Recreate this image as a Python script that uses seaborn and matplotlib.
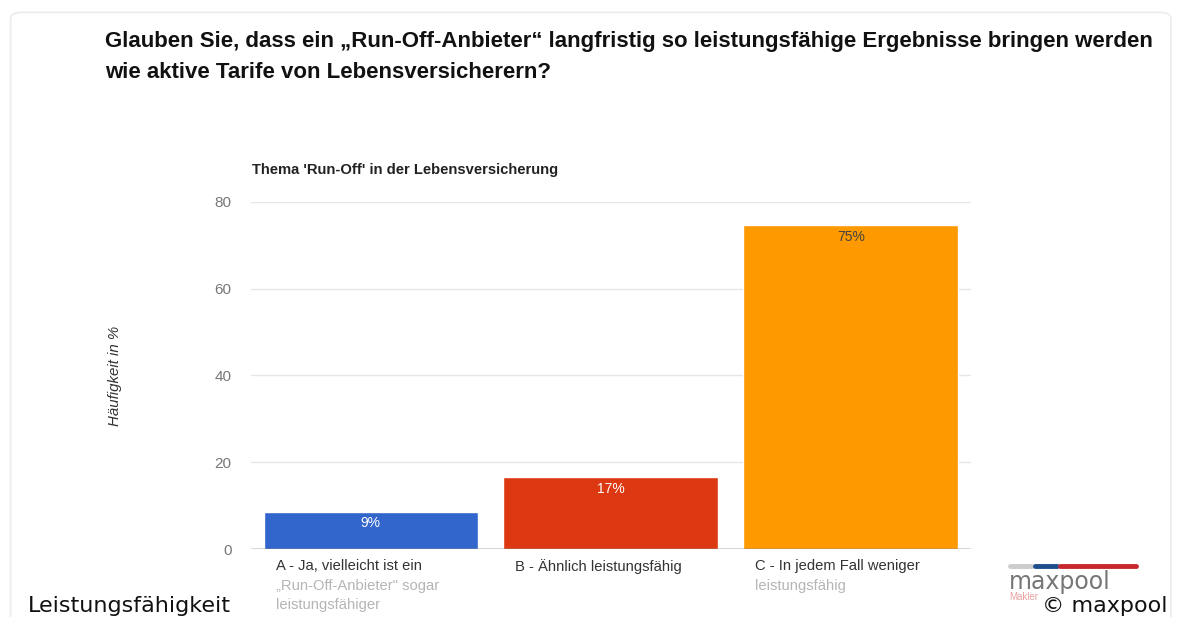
import matplotlib
matplotlib.use("Agg")
import matplotlib.pyplot as plt
import seaborn as sns
import pandas as pd
from matplotlib.patches import FancyBboxPatch

categories = ["A", "B", "C"]
values = [8.6, 16.5, 74.6]
value_labels = ["9%", "17%", "75%"]
label_first = ["A - Ja, vielleicht ist ein", "B - Ähnlich leistungsfähig", "C - In jedem Fall weniger"]
label_rest = ["„Run-Off-Anbieter\" sogar\nleistungsfähiger", "", "leistungsfähig"]
colors = ["#3366CC", "#DC3912", "#FF9900"]
yticks = [0, 20, 40, 60, 80]

sns.set_theme(style="white")
plt.rcParams['font.family'] = ['Liberation Sans', 'DejaVu Sans']

fig = plt.figure(figsize=(11.78, 6.17), dpi=100)
ax = fig.add_axes([0.213, 0.110, 0.611, 0.563])

df = pd.DataFrame({"cat": categories, "val": values})
sns.barplot(data=df, x="cat", y="val", hue="cat", palette=colors, legend=False,
            width=0.895, saturation=1, ax=ax)

ax.set_ylim(0, 80)
ax.set_xlim(-0.5, 2.5)
ax.set_yticks(yticks)
ax.set_yticklabels([str(t) for t in yticks], color="#777777", fontsize=11)
ax.tick_params(axis="y", length=0, pad=14)
ax.tick_params(axis="x", length=0)
ax.set_xticklabels([])
ax.set_xlabel("")
ax.set_ylabel("")
for t in yticks[1:]:
    ax.axhline(t, color="#e6e6e6", lw=1, zorder=0)
ax.axhline(0, color="#333333", lw=1, zorder=3)
for s in ax.spines.values():
    s.set_visible(False)

# value labels
for i, (v, lab) in enumerate(zip(values, value_labels)):
    ax.text(i, v - 1.0, lab, ha="center", va="top", fontsize=10,
            color="white" if i < 2 else "#444444")

# x category labels
for i in range(3):
    x0 = i - 0.895 / 2 + 0.05
    ax.text(x0, -2.2, label_first[i], ha="left", va="top", fontsize=10.6,
            color="#333333", clip_on=False)
    if label_rest[i]:
        ax.text(x0, -6.8, label_rest[i], ha="left", va="top", fontsize=10.6,
                color="#b5b5b5", linespacing=1.45, clip_on=False)

# frame
fig.patches.append(FancyBboxPatch((0.009, -0.05), 0.985, 1.03, boxstyle="round,pad=0,rounding_size=0.01",
                                  transform=fig.transFigure, fill=False, ec="#ececec", lw=1.2))

fig.text(105 / 1178, 1 - 42 / 617, "Glauben Sie, dass ein „Run-Off-Anbieter“ langfristig so leistungsfähige Ergebnisse bringen werden",
         fontsize=16, fontweight="bold", color="#111111", va="center", ha="left")
fig.text(105 / 1178, 1 - 73 / 617, "wie aktive Tarife von Lebensversicherern?",
         fontsize=16, fontweight="bold", color="#111111", va="center", ha="left")
fig.text(252 / 1178, 1 - 170 / 617, "Thema 'Run-Off' in der Lebensversicherung",
         fontsize=10.6, fontweight="bold", color="#222222", va="center", ha="left")
fig.text(115 / 1178, 1 - 376 / 617, "Häufigkeit in %", rotation=90, fontsize=10.8,
         fontstyle="italic", color="#333333", va="center", ha="center")

# logo
fig.lines.append(plt.Line2D([1010 / 1178, 1032 / 1178], [1 - 566 / 617] * 2, color="#cccccc", lw=3.5, transform=fig.transFigure))
fig.lines.append(plt.Line2D([1035 / 1178, 1057 / 1178], [1 - 566 / 617] * 2, color="#1f4e8c", lw=3.5, transform=fig.transFigure))
fig.lines.append(plt.Line2D([1060 / 1178, 1136 / 1178], [1 - 566 / 617] * 2, color="#c8282d", lw=3.5, transform=fig.transFigure))
fig.text(1009 / 1178, 1 - 582 / 617, "maxpool", fontsize=17, color="#777777", family="DejaVu Sans",
         va="center", ha="left")
fig.text(1009 / 1178, 1 - 597 / 617, "Makler", fontsize=7, color="#e8a0a0", va="center", ha="left")

fig.text(28 / 1178, 1 - 612 / 617, "Leistungsfähigkeit", fontsize=16, color="#111111",
         family="DejaVu Sans", va="baseline", ha="left")
fig.text(1168 / 1178, 1 - 612 / 617, "© maxpool", fontsize=16, color="#111111",
         family="DejaVu Sans", va="baseline", ha="right")

fig.savefig("out.png", dpi=100, facecolor="white")
